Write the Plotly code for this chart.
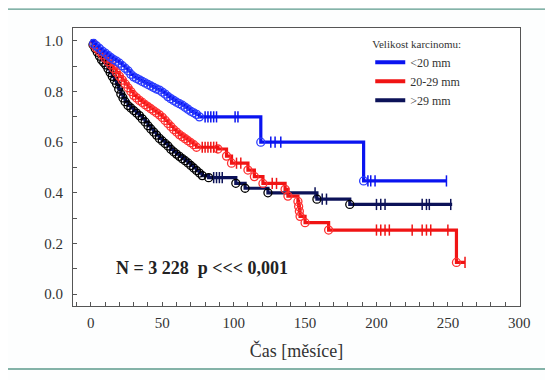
import plotly.graph_objects as go

# ---- data ----
blue_t = [0,2,4,6,8,10,12,14,16,18,20,22,24,26,28,30,32,34,36,38,40,42,44,46,48,50,52,54,56,58,60,62,64,66,68,70,72,74,76,119,191,249]
blue_s = [1.0,.99,.98,.97,.96,.952,.943,.934,.926,.92,.912,.902,.892,.882,.868,.858,.852,.846,.84,.834,.828,.822,.816,.81,.806,.798,.79,.78,.772,.765,.758,.752,.746,.738,.73,.722,.716,.71,.70,.60,.447,.447]
blue_cens_t = [80,82,84,86,88,101,103,126,129,133,194,196,199,249]
blue_cens_s = [.70,.70,.70,.70,.70,.70,.70,.60,.60,.60,.447,.447,.447,.447]

red_t = [0,2,4,6,8,10,12,14,16,18,20,22,24,26,28,30,32,34,36,38,40,42,44,46,48,50,52,54,56,58,60,62,64,66,68,70,72,74,89,95,98.5,110,114.5,120.5,136,138,145,145.5,146,146.5,150,166.5,256,262]
red_s = [1,.985,.97,.958,.945,.932,.918,.905,.89,.875,.86,.845,.83,.815,.80,.785,.775,.765,.757,.748,.74,.732,.724,.716,.708,.698,.686,.674,.662,.65,.64,.63,.622,.614,.606,.598,.59,.58,.573,.545,.517,.49,.464,.437,.414,.387,.366,.346,.327,.307,.282,.253,.125,.125]
red_cens_t = [78,80,82,84,86,88,102,105,127,130,200,203,206,209,225,232,235,238,250,262]
red_cens_s = [.58,.58,.58,.58,.58,.58,.517,.517,.437,.437,.253,.253,.253,.253,.253,.253,.253,.253,.253,.125]

black_t = [0,1.5,3,4.5,6,7.5,9,10.5,12,13.5,15,16.5,18,19.5,21,22.5,24,26,28,30,32,34,36,38,40,42,44,46,48,50,52,54,56,58,60,62,64,66,68,70,72,74,76,78,82.5,101.5,108,124,158.3,181.3,253]
black_s = [1,.985,.97,.955,.94,.925,.915,.905,.89,.875,.86,.845,.83,.81,.79,.775,.76,.745,.735,.725,.715,.705,.692,.68,.665,.652,.64,.628,.615,.605,.595,.585,.572,.562,.553,.544,.535,.527,.518,.508,.498,.488,.478,.468,.46,.4375,.418,.40,.375,.354,.354]
black_cens_t = [86,88,90,92,157,162,165,200,203,206,232,235,237,252]
black_cens_s = [.46,.46,.46,.46,.40,.375,.375,.354,.354,.354,.354,.354,.354,.354]

series = [
    ("<20 mm", blue_t, blue_s, blue_cens_t, blue_cens_s, "#0a14f0", "#2a3cff"),
    ("20-29 mm", red_t, red_s, red_cens_t, red_cens_s, "#f01414", "#ff3030"),
    (">29 mm", black_t, black_s, black_cens_t, black_cens_s, "#0c1258", "#000000"),
]

fig = go.Figure()
for name, t, s, ct, cs, lc, mc in reversed(series):
    fig.add_trace(go.Scatter(x=t, y=s, mode="lines", line=dict(color=lc, width=3.2, shape="hv"),
                             name=name, showlegend=False, hoverinfo="skip"))
    fig.add_trace(go.Scatter(x=t[1:-1], y=s[1:-1], mode="markers",
                             marker=dict(symbol="circle-open", size=8, color=mc, line=dict(width=1.3)),
                             showlegend=False, hoverinfo="skip"))
    fig.add_trace(go.Scatter(x=ct, y=cs, mode="markers",
                             marker=dict(symbol="line-ns-open", size=8, color=lc, line=dict(width=1.5, color=lc)),
                             showlegend=False, hoverinfo="skip"))

for name, t, s, ct, cs, lc, mc in series:
    fig.add_trace(go.Scatter(x=[None], y=[None], mode="lines", line=dict(color=lc, width=4),
                             name=name, showlegend=True))

serif = "Liberation Serif, Times New Roman, serif"

fig.add_annotation(x=78, y=0.103, xref="x", yref="y", text="<b>N = 3 228  p &lt;&lt;&lt; 0,001</b>",
                   showarrow=False, font=dict(family=serif, size=18, color="#222222"))

# outer frame
fig.add_shape(type="rect", xref="paper", yref="paper", x0=-0.161, x1=1.0626, y0=-0.2266, y1=1.068,
              line=dict(color="#5c9a8c", width=1.4), layer="below")

fig.update_layout(
    width=553, height=380,
    margin=dict(l=65, r=41, t=20, b=82),
    paper_bgcolor="#fdfefe", plot_bgcolor="white",
    font=dict(family=serif, color="#333333"),
    legend=dict(x=0.665, y=0.98, xanchor="left", yanchor="top", bgcolor="rgba(0,0,0,0)",
                title=dict(text="Velikost karcinomu:", font=dict(size=11, family=serif, color="#333")),
                font=dict(size=12, family=serif, color="#333"), itemwidth=30, tracegroupgap=0),
    xaxis=dict(range=[-12.5, 300.5], tickvals=[0,50,100,150,200,250,300], ticks="inside", ticklen=4,
               tickcolor="#555", showgrid=False, zeroline=False, showline=True, linecolor="#555",
               linewidth=1, mirror=True, tickfont=dict(size=15, family=serif, color="#333"),
               ticklabelstandoff=3,
               minor=dict(dtick=10, ticks="inside", ticklen=4, tickcolor="#555"),
               title=dict(text="Čas [měsíce]", font=dict(size=18, family=serif, color="#333"), standoff=14)),
    yaxis=dict(range=[-0.047, 1.051], tickvals=[0,0.2,0.4,0.6,0.8,1.0], tickformat=".1f",
               ticks="inside", ticklen=4, tickcolor="#555", showgrid=False, zeroline=False,
               showline=True, linecolor="#555", linewidth=1, mirror=True,
               tickfont=dict(size=15, family=serif, color="#333"), ticklabelstandoff=6,
               minor=dict(dtick=0.1, ticks="inside", ticklen=4, tickcolor="#555")),
)

fig.write_html("out.html")
